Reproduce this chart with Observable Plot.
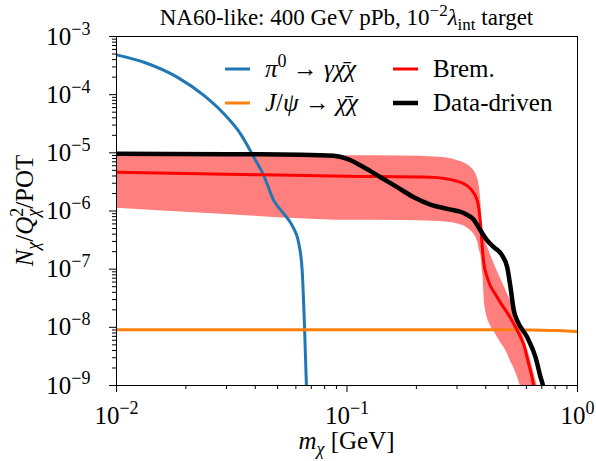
<!DOCTYPE html>
<html><head><meta charset="utf-8">
<script src="https://cdn.jsdelivr.net/npm/d3@7"></script>
<script src="https://cdn.jsdelivr.net/npm/@observablehq/plot@0.6"></script>
<style>html,body{margin:0;padding:0;background:#fff;}</style>
</head><body><div id="chart"></div>
<script>
// ---- data ----
const piMass = [0.01, 0.01315, 0.01833, 0.02393, 0.02923, 0.03451, 0.03945, 0.04355, 0.0481, 0.0532, 0.0578, 0.0618, 0.0639, 0.0655, 0.0667, 0.0672];
const piN    = [4.84e-4, 3.61e-4, 2.0e-4, 9.7e-5, 4.69e-5, 2.12e-5, 8.4e-6, 4.07e-6, 1.52e-6, 8.95e-7, 5.64e-7, 2.73e-7, 9.5e-8, 8.8e-9, 9.5e-10, 5e-10];

const jpsiMass = [0.01, 0.1, 0.5, 0.6, 0.7, 0.8, 0.9, 1.0];
const jpsiN    = [9.08e-9, 9.08e-9, 9.06e-9, 9.0e-9, 8.9e-9, 8.8e-9, 8.65e-9, 8.5e-9];

const bremMass = [0.01, 0.03, 0.1, 0.2303, 0.3006, 0.3434, 0.3673, 0.3796, 0.386, 0.392, 0.4055, 0.4483, 0.512, 0.566, 0.585, 0.61, 0.64, 0.66];
const bremN    = [4.64e-6, 4.3e-6, 3.95e-6, 3.81e-6, 3.25e-6, 2.41e-6, 1.52e-6, 6.0e-7, 2.5e-7, 1.3e-7, 7.3e-8, 3.3e-8, 1.45e-8, 6.8e-9, 5.0e-9, 2.6e-9, 1.2e-9, 6e-10];

const bandMass = [0.01, 0.03, 0.0628, 0.1, 0.17, 0.25, 0.30, 0.343, 0.367, 0.377, 0.382, 0.386, 0.39, 0.395, 0.42, 0.441, 0.4634, 0.48, 0.5035, 0.512, 0.5208, 0.566, 0.585, 0.615, 0.668, 0.7];
const bandHi   = [9.0e-6, 9.0e-6, 9.0e-6, 8.9e-6, 8.8e-6, 8.4e-6, 7.4e-6, 5.7e-6, 3.8e-6, 2.25e-6, 1.16e-6, 4.05e-7, 3.66e-7, 3.23e-7, 1.76e-7, 1.08e-7, 7.0e-8, 5.1e-8, 3.37e-8, 2.9e-8, 2.42e-8, 1.0e-8, 6.6e-9, 3.5e-9, 1.0e-9, 5e-10];
const bandLo   = [1.12e-6, 8.7e-7, 7.35e-7, 6.9e-7, 6.85e-7, 6.6e-7, 6.05e-7, 4.63e-7, 3.11e-7, 2.0e-7, 1.61e-7, 1.02e-7, 6.38e-8, 2.54e-8, 1.04e-8, 7.7e-9, 5.5e-9, 4.5e-9, 3.1e-9, 2.6e-9, 2.3e-9, 9.6e-10, 6e-10, 4e-10, 2e-10, 1e-10];

const ddMass = [0.01, 0.03, 0.0628, 0.0876, 0.1002, 0.1183, 0.1397, 0.1651, 0.1949, 0.2303, 0.272, 0.3211, 0.3549, 0.3796, 0.4058, 0.4335, 0.4713, 0.4955, 0.512, 0.5294, 0.5475, 0.6049, 0.6573, 0.6912, 0.7099, 0.72];
const ddN    = [9.62e-6, 9.5e-6, 9.3e-6, 8.9e-6, 7.9e-6, 5.66e-6, 3.81e-6, 2.57e-6, 1.73e-6, 1.29e-6, 1.09e-6, 9.2e-7, 7.06e-7, 4.62e-7, 3.11e-7, 2.39e-7, 1.72e-7, 1.08e-7, 4.9e-8, 1.95e-8, 1.31e-8, 6.77e-9, 3.07e-9, 1.39e-9, 9.35e-10, 6e-10];

const xTickExp = [-2, -1, 0];
const yTickExp = [-9, -8, -7, -6, -5, -4, -3];

// ---- layout ----
const W = 596, H = 461, ML = 116, MR = 19, MT = 36, MB = 76;
const FONT = "Liberation Serif";
const TICK_FS = 25, TITLE_FS = 23, LEG_FS = 25, AX_FS = 25;

const rows = (xs, ys) => xs.map((x, i) => ({x, y: ys[i]}));
const bandRows = bandMass.map((x, i) => ({x, lo: bandLo[i], hi: bandHi[i]}));
const majorX = xTickExp.map(e => Math.pow(10, e));
const majorY = yTickExp.map(e => Math.pow(10, e));
const minorsOf = exps => exps.slice(0, -1).flatMap(e => d3.range(2, 10).map(k => k * Math.pow(10, e)));
const minorX = minorsOf(xTickExp);
const minorY = minorsOf(yTickExp);
const expFmt = d => { const e = Math.round(Math.log10(d)); return e < 0 ? "\u2212" + (-e) : String(e); };

const svg = Plot.plot({
  width: W, height: H,
  marginLeft: ML, marginRight: MR, marginTop: MT, marginBottom: MB,
  style: {fontFamily: FONT, fontSize: TICK_FS + "px", background: "white", color: "black"},
  x: {type: "log", domain: [0.01, 1]},
  y: {type: "log", domain: [1e-9, 1e-3]},
  marks: [
    Plot.areaY(bandRows, {x: "x", y1: "lo", y2: "hi", fill: "#ff0000", fillOpacity: 0.5, curve: "monotone-x", clip: true}),
    Plot.line(rows(piMass, piN), {x: "x", y: "y", stroke: "#1f77b4", strokeWidth: 3, curve: "monotone-x", clip: true}),
    Plot.line(rows(jpsiMass, jpsiN), {x: "x", y: "y", stroke: "#ff7f0e", strokeWidth: 3, curve: "monotone-x", clip: true}),
    Plot.line(rows(bremMass, bremN), {x: "x", y: "y", stroke: "#ff0000", strokeWidth: 3, curve: "monotone-x", clip: true}),
    Plot.line(rows(ddMass, ddN), {x: "x", y: "y", stroke: "#000000", strokeWidth: 4.5, curve: "monotone-x", clip: true}),
    Plot.axisX(minorX, {tickSize: 4, tickFormat: () => "", label: null}),
    Plot.axisX(majorX, {tickSize: 7, tickPadding: 14, tickFormat: expFmt, label: null}),
    Plot.axisY(minorY, {tickSize: 4, tickFormat: () => "", label: null}),
    Plot.axisY(majorY, {tickSize: 7, tickPadding: 19, tickFormat: expFmt, label: null}),
    Plot.frame({stroke: "black", strokeWidth: 1})
  ]
});
document.getElementById("chart").appendChild(svg);

// ---- rich text helper ----
function rich(sel, parts, fs) {
  const sfs = Math.round(fs * 0.72), up = -Math.round(fs * 0.4), down = Math.round(fs * 0.22);
  let cur = 0;
  for (const p of parts) {
    const [txt, st = "", dx = 0] = p;
    const ts = sel.append("tspan").text(txt);
    let target = 0;
    if (st.includes("sup")) { target = up; ts.attr("font-size", sfs); }
    if (st.includes("sub")) { target = down; ts.attr("font-size", sfs); }
    if (st.includes("i")) ts.attr("font-style", "italic");
    if (target !== cur) ts.attr("dy", target - cur);
    if (dx) ts.attr("dx", dx);
    cur = target;
  }
}

// exponent tick labels
const root = d3.select(svg);
root.selectAll('g[aria-label="x-axis tick label"] text, g[aria-label="y-axis tick label"] text').each(function () {
  const t = this.textContent;
  if (!t) return;
  const s = d3.select(this);
  s.text(null);
  rich(s, [["10"], [t, "sup"]], TICK_FS);
});

const txt = root.append("g").attr("font-family", FONT).attr("fill", "black").attr("text-anchor", "start");

// title
rich(txt.append("text").attr("font-size", TITLE_FS).attr("x", (ML + W - MR) / 2).attr("y", 25).attr("text-anchor", "middle"),
  [["NA60-like: 400 GeV pPb, 10"], ["\u22122", "sup"], ["\u03bb", "i"], ["int", "sub"], [" target"]], TITLE_FS);

// x label
rich(txt.append("text").attr("font-size", AX_FS).attr("x", (ML + W - MR) / 2).attr("y", 449).attr("text-anchor", "middle"),
  [["m", "i"], ["\u03c7", "subi"], [" [GeV]"]], AX_FS);

// y label
rich(txt.append("text").attr("font-size", AX_FS).attr("transform", `translate(33,${(MT + H - MB) / 2}) rotate(-90)`).attr("text-anchor", "middle"),
  [["N", "i"], ["\u03c7", "subi"], ["/"], ["Q", "i"], ["2", "sup"], ["\u03c7", "subi", -9], ["/POT"]], AX_FS);

// legend
const legend = [
  {color: "#1f77b4", w: 3, x: 225, y: 69, parts: [["\u03c0", "i"], ["0", "sup"], [" \u2192 "], ["\u03b3\u03c7\u0304\u03c7", "i"]]},
  {color: "#ff7f0e", w: 3, x: 225, y: 103, parts: [["J", "i"], ["/"], ["\u03c8", "i"], [" \u2192 "], ["\u03c7\u0304\u03c7", "i"]]},
  {color: "#ff0000", w: 3, x: 393, y: 69, parts: [["Brem."]]},
  {color: "#000000", w: 4.5, x: 393, y: 103, parts: [["Data-driven"]]}
];
for (const L of legend) {
  txt.append("line").attr("x1", L.x).attr("x2", L.x + 25).attr("y1", L.y).attr("y2", L.y)
    .attr("stroke", L.color).attr("stroke-width", L.w);
  rich(txt.append("text").attr("font-size", LEG_FS).attr("x", L.x + 40).attr("y", L.y + 8), L.parts, LEG_FS);
}
</script>
</body></html>
